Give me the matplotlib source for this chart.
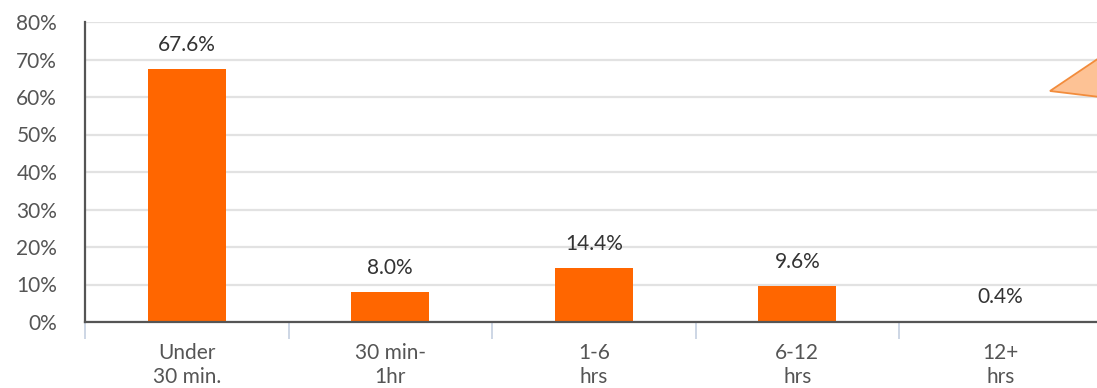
import numpy as np
import matplotlib.pyplot as plt
from matplotlib.patches import Polygon

# response time buckets and share of responses
categories = ["Under\n30 min.", "30 min-\n1hr", "1-6\nhrs", "6-12\nhrs", "12+\nhrs"]
shares = [67.6, 8.0, 14.4, 9.6, 0.4]
yticks = [0, 10, 20, 30, 40, 50, 60, 70, 80]

bar_color = "#FF6600"
fontsize = 15

plt.rcParams['font.family'] = ['Lato', 'DejaVu Sans']

fig = plt.figure(figsize=(10.97, 3.88), dpi=100)
ax = fig.add_axes([85 / 1097, 66 / 388, 5 * 203.5 / 1097, 300 / 388])

x = np.arange(len(categories))
ax.bar(x, shares, width=0.385, color=bar_color, zorder=3)

for xi, v in zip(x, shares):
    ax.annotate(f"{v:.1f}%", (xi, v), xytext=(0, 10), textcoords="offset points",
                ha="center", va="bottom", fontsize=fontsize, color="#333333")

ax.set_xlim(-0.5, len(categories) - 0.5)
ax.set_ylim(0, 80)
ax.set_yticks(yticks)
ax.set_yticklabels([f"{t}%" for t in yticks], fontsize=fontsize, color="#555555")
ax.set_xticks(x)
ax.set_xticklabels(categories, fontsize=fontsize, color="#555555", linespacing=1.25)
ax.tick_params(axis="x", which="major", length=0, pad=15)
ax.set_xticks(np.arange(-0.5, len(categories)), minor=True)
ax.tick_params(axis="x", which="minor", length=12, width=1.2, color="#C5D0E0")
ax.tick_params(axis="y", length=0, pad=20)

ax.yaxis.grid(True, color="#E2E2E2", linewidth=1.6, zorder=0)
ax.set_axisbelow(True)
for side in ["top", "right"]:
    ax.spines[side].set_visible(False)
for side in ["left", "bottom"]:
    ax.spines[side].set_color("#555555")
    ax.spines[side].set_linewidth(1.6)
ax.spines["bottom"].set_zorder(4)

# callout pointer in the top right corner
pointer = Polygon([(1050 / 1097, 1 - 91 / 388), (1.01, 1 - 52 / 388), (1.01, 1 - 98 / 388)],
                  closed=True, transform=fig.transFigure, facecolor="#FDC295",
                  edgecolor="#F28C3C", linewidth=1.3, zorder=5)
fig.patches.append(pointer)

plt.savefig("out.png", dpi=100)
